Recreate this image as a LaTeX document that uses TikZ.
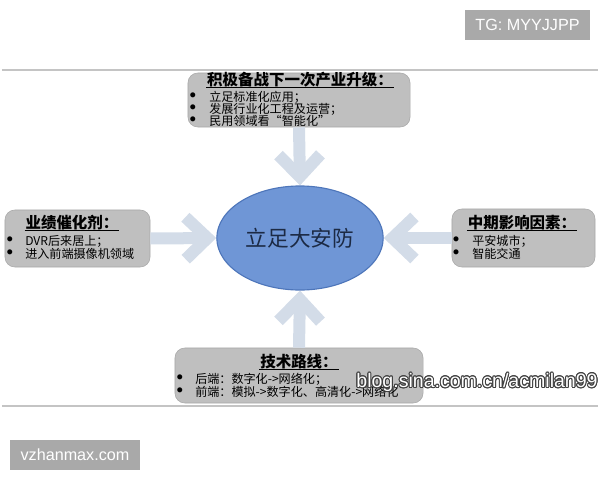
\documentclass[tikz,border=0pt]{standalone}
\usepackage{fontspec}
\setmainfont{Noto Sans CJK SC}
\newfontfamily\wmfont{Liberation Sans}
\usepackage{contour}
\usepackage{tikz}
\usetikzlibrary{arrows.meta}
\usetikzlibrary{shapes.geometric}

\definecolor{boxgray}{HTML}{BFBFBF}
\definecolor{boxline}{HTML}{A8A8A8}
\definecolor{arrowblue}{HTML}{D3DCE8}
\definecolor{ovalblue}{HTML}{6F96D6}
\definecolor{ovalline}{HTML}{4E76BA}
\definecolor{ovaltext}{HTML}{1C2A44}
\definecolor{wmgray}{HTML}{A9A9A9}
\definecolor{rulegray}{HTML}{C4C4C4}

\begin{document}
\begin{tikzpicture}[x=0.025cm,y=-0.025cm,
  infobox/.style={draw=boxline,fill=boxgray,rounded corners=7pt,inner sep=0pt},
  boxtitle/.style={font=\fontsize{11}{12}\selectfont\bfseries,inner sep=0.5pt,text height=0.86em,text depth=0.1em},
  item/.style={font=\fontsize{8.6}{10}\selectfont,inner sep=0pt,anchor=west,text height=0.84em,text depth=0.1em},
  dot/.style={font=\fontsize{9}{10}\selectfont,inner sep=0pt},
  bigarrow/.style={draw=arrowblue,line width=0.3cm,-{Straight Barb[length=0.55cm,width=1.05cm]}},
  wmbox/.style={fill=wmgray,text=white,font=\wmfont\fontsize{11.5}{12}\selectfont,inner sep=0pt}]
\useasboundingbox (0,0) rectangle (600,480);

% rules
\coordinate (r1) at (2,70);
\coordinate (r2) at (598,70);
\coordinate (r3) at (2,406);
\coordinate (r4) at (598,406);
\draw [rulegray,line width=1.5pt] (r1) -- (r2);
\draw [rulegray,line width=1.5pt] (r3) -- (r4);

% center
\node [ellipse,draw=ovalline,fill=ovalblue,line width=0.8pt,minimum width=3.6cm,minimum height=2.6cm,
  text=ovaltext,font=\fontsize{15.4}{16}\selectfont] (hub) at (300,238) {立足大安防};

% top box
\node [infobox,minimum width=5.55cm,minimum height=1.35cm] (upgrade) at (299,100) {};
\node [boxtitle] (upgradet) at (300,80) {积极备战下一次产业升级：};
\draw (upgradet.south west) -- (upgradet.south east);
\node [dot] (ud1) at (193,96) {$\bullet$};
\node [dot] (ud2) at (193,108) {$\bullet$};
\node [dot] (ud3) at (193,120) {$\bullet$};
\node [item] (ui1) at (209,96) {立足标准化应用；};
\node [item] (ui2) at (209,108) {发展行业化工程及运营；};
\node [item] (ui3) at (209,120) {民用领域看“智能化”};

% left box
\node [infobox,minimum width=3.625cm,minimum height=1.425cm] (driver) at (77.5,238.5) {};
\node [boxtitle] (drivert) at (72,223) {业绩催化剂：};
\draw (drivert.south west) -- (drivert.south east);
\node [dot] (ld1) at (10,240) {$\bullet$};
\node [dot] (ld2) at (10,253) {$\bullet$};
\node [item] (li1) at (25,240) {DVR后来居上；};
\node [item] (li2) at (25,253) {进入前端摄像机领域};

% right box
\node [infobox,minimum width=3.575cm,minimum height=1.45cm] (factor) at (523.5,238) {};
\node [boxtitle] (factort) at (522,223) {中期影响因素：};
\draw (factort.south west) -- (factort.south east);
\node [dot] (rd1) at (456,240) {$\bullet$};
\node [dot] (rd2) at (456,253) {$\bullet$};
\node [item] (ri1) at (472,240) {平安城市；};
\node [item] (ri2) at (472,253) {智能交通};

% bottom box
\node [infobox,minimum width=6.2cm,minimum height=1.375cm] (route) at (299,375.5) {};
\node [boxtitle] (routet) at (299,362) {技术路线：};
\draw (routet.south west) -- (routet.south east);
\node [dot] (bd1) at (180,378) {$\bullet$};
\node [dot] (bd2) at (180,391) {$\bullet$};
\node [item] (bi1) at (195,378) {后端：数字化->网络化；};
\node [item] (bi2) at (195,391) {前端：模拟->数字化、高清化->网络化};

% arrows
\draw [bigarrow] (upgrade.south) -- (hub.north);
\draw [bigarrow] (route.north) -- (hub.south);
\draw [bigarrow] (driver.east) -- (hub.west);
\draw [bigarrow] (factor.west) -- (hub.east);

% watermarks
\node [wmbox,minimum width=3.125cm,minimum height=0.75cm] (tg) at (527.5,25) {TG: MYYJJPP};
\node [wmbox,minimum width=3.25cm,minimum height=0.75cm] (site) at (75,455) {vzhanmax.com};
\contourlength{0.7pt}
\node [inner sep=0pt,font=\wmfont\fontsize{13.9}{14}\selectfont] (sina) at (477,383)
  {\color{white}\contour{gray!50!black}{blog.sina.com.cn/acmilan99}};
\end{tikzpicture}
\end{document}
